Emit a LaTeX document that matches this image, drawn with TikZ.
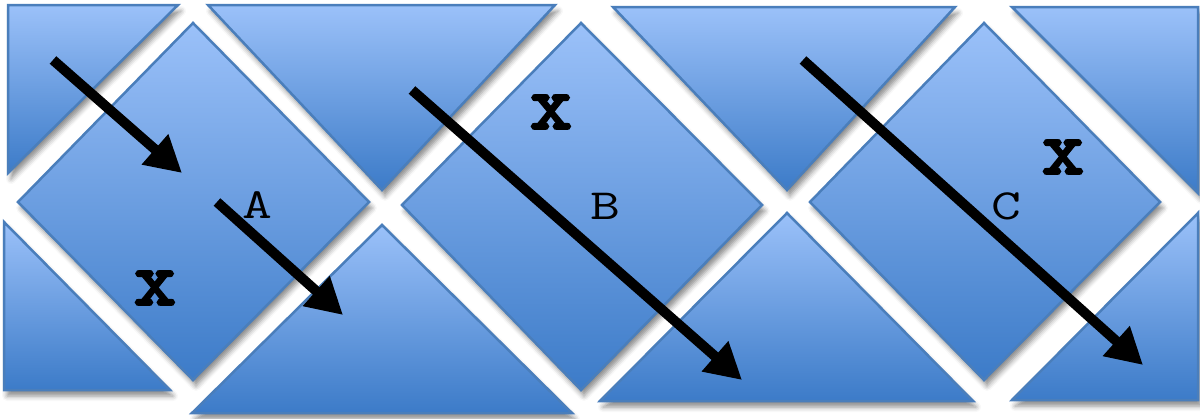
\documentclass[tikz,border=0pt]{standalone}
\usepackage{fontspec}
\usetikzlibrary{arrows.meta,shadows.blur}
\newfontfamily\lettfont[FakeStretch=1.35]{Latin Modern Mono}
\newfontfamily\crossfont[FakeBold=3.5,FakeStretch=1.06]{Latin Modern Mono}
\definecolor{tilelight}{RGB}{155,193,249}
\definecolor{tiledark}{RGB}{60,123,200}
\definecolor{tileedge}{RGB}{74,126,187}
\tikzset{
  tile/.style={draw=tileedge, line width=2.5pt, line join=miter,
    top color=tilelight, bottom color=tiledark,
    blur shadow={shadow xshift=3pt, shadow yshift=-6pt, shadow blur radius=5pt, shadow opacity=45}},
  bigarrow/.style={line width=10pt, black, -{Triangle[length=36pt,width=38pt]}},
  letter/.style={font=\lettfont\fontsize{43}{43}\selectfont, inner sep=0pt},
  cross/.style={font=\crossfont\fontsize{77}{77}\selectfont, inner sep=0pt},
}
\begin{document}
\begin{tikzpicture}[x=1pt,y=-1pt]
\useasboundingbox (0,0) rectangle (1200,418);
% tiles
\path[tile] (8,5) -- (178,5) -- (8,173) -- cycle;
\path[tile] (4,222) -- (170,390) -- (4,390) -- cycle;
\path[tile] (208,5) -- (555,5) -- (382,190) -- cycle;
\path[tile] (192,413) -- (382,225) -- (572,413) -- cycle;
\path[tile] (613,7) -- (955,7) -- (787,190) -- cycle;
\path[tile] (600,401) -- (787,213) -- (973,401) -- cycle;
\path[tile] (1012,7) -- (1198,7) -- (1198,193) -- cycle;
\path[tile] (1198,213) -- (1198,400) -- (1012,400) -- cycle;
\path[tile] (193,23) -- (369,202) -- (193,380) -- (18,202) -- cycle;
\path[tile] (581,23) -- (762,205) -- (581,390) -- (402,205) -- cycle;
\path[tile] (984,23) -- (1160,202) -- (984,380) -- (810,202) -- cycle;
% arrows
\coordinate (a1s) at (53,60);   \coordinate (a1e) at (182,173);
\coordinate (a2s) at (217,202); \coordinate (a2e) at (343,315);
\coordinate (a3s) at (412,90);  \coordinate (a3e) at (742,380);
\coordinate (a4s) at (803,60);  \coordinate (a4e) at (1143,365);
\draw[bigarrow] (a1s) -- (a1e);
\draw[bigarrow] (a2s) -- (a2e);
\draw[bigarrow] (a3s) -- (a3e);
\draw[bigarrow] (a4s) -- (a4e);
% labels
\node[letter] (lA) at (257,205) {A};
\node[letter] (lB) at (605,206) {B};
\node[letter] (lC) at (1006,206) {C};
\node[cross] (xA) at (155,288) {x};
\node[cross] (xB) at (551,112) {x};
\node[cross] (xC) at (1063,157) {x};
\end{tikzpicture}
\end{document}
